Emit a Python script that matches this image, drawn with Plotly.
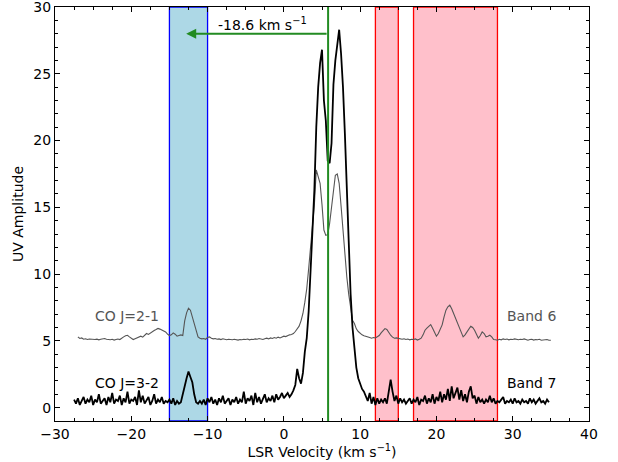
import plotly.graph_objects as go

# ---------------- data ----------------
# Band 6 (CO J=2-1) spectrum: channel grid start / spacing (km/s)
B6_V0 = -27.0
B6_DV = 0.25
band6_amp = [
    5.30, 5.18, 5.22, 5.12, 5.16, 5.10, 5.14, 5.12,   # -27.0
    5.15, 5.10, 5.13, 5.08, 5.12, 5.15, 5.18, 5.12,   # -25.0
    5.10, 5.08, 5.12, 5.06, 5.10, 5.14, 5.10, 5.22,   # -23.0
    5.30, 5.38, 5.42, 5.30, 5.18, 5.10, 5.16, 5.24,   # -21.0
    5.30, 5.35, 5.28, 5.42, 5.55, 5.48, 5.60, 5.70,   # -19.0
    5.78, 5.85, 5.93, 5.88, 5.80, 5.72, 5.67, 5.50,   # -17.0
    5.40, 5.45, 5.60, 5.50, 5.35, 5.40, 5.45, 5.40,   # -15.0
    6.50, 7.10, 7.45, 7.30, 6.80, 6.10, 5.60, 5.30,   # -13.0
    5.20, 5.15, 5.18, 5.12, 5.25, 5.30, 5.20, 5.15,   # -11.0
    5.18, 5.12, 5.15, 5.10, 5.16, 5.12, 5.08, 5.12,   # -9.0
    5.10, 5.08, 5.12, 5.10, 5.06, 5.10, 5.08, 5.12,   # -7.0
    5.10, 5.14, 5.08, 5.12, 5.10, 5.15, 5.12, 5.18,   # -5.0
    5.14, 5.10, 5.16, 5.20, 5.15, 5.22, 5.18, 5.25,   # -3.0
    5.20, 5.28, 5.22, 5.30, 5.35, 5.32, 5.40, 5.45,   # -1.0
    5.48, 5.55, 5.70, 5.90, 6.10, 6.50, 7.05, 7.90,   # 1.0
    8.90, 10.40, 11.90, 13.60, 15.20, 17.80, 17.30, 16.80,  # 3.0
    15.20, 13.30, 12.90, 12.95, 13.80, 15.05, 16.20, 17.40,  # 5.0
    17.50, 16.80, 15.10, 13.10, 11.50, 9.80, 8.50, 7.55,    # 7.0
    6.55, 6.30, 5.90, 5.70, 5.55, 5.45, 5.38, 5.35,   # 9.0
    5.30, 5.25, 5.20, 5.25, 5.22, 5.30, 5.40, 5.60,   # 11.0
    5.75, 5.92, 5.85, 5.60, 5.42, 5.28, 5.20, 5.22,   # 13.0
    5.18, 5.15, 5.12, 5.16, 5.10, 5.14, 5.08, 5.12,   # 15.0
    5.10, 5.15, 5.06, 5.12, 5.20, 5.45, 5.80, 5.95,   # 17.0
    6.10, 6.22, 5.95, 5.70, 5.35, 5.55, 5.90, 6.20,   # 19.0
    6.80, 7.30, 7.55, 7.67, 7.40, 7.05, 6.70, 6.30,   # 21.0
    6.05, 5.70, 5.30, 5.45, 5.67, 5.95, 6.10, 6.00,   # 23.0
    5.80, 5.50, 5.20, 5.40, 5.67, 5.55, 5.30, 5.35,   # 25.0
    5.42, 5.30, 5.10, 5.08, 5.05, 5.12, 5.08, 5.15,   # 27.0
    5.10, 5.14, 5.08, 5.12, 5.10, 5.15, 5.10, 5.08,   # 29.0
    5.12, 5.10, 5.15, 5.08, 5.05, 5.10, 5.12, 5.06,   # 31.0
    5.10, 5.08, 5.12, 5.05, 5.08, 5.06, 5.10, 5.05,   # 33.0
    5.05,                                             # 35.0
]

# Band 7 (CO J=3-2) spectrum
B7_V0 = -27.5
B7_DV = 0.25
band7_amp = [
    0.6, 0.3, 0.7, 0.2, 0.5, 0.8, 0.3, 0.6,   # -27.5
    0.4, 0.9, 0.2, 0.6, 0.4, 1.0, 0.3, 0.5,   # -25.5
    0.7, 0.2, 0.8, 0.4, 1.1, 0.3, 0.6, 0.5,   # -23.5
    0.9, 0.2, 0.7, 0.4, 1.2, 0.3, 0.6, 0.5,   # -21.5
    0.8, 0.2, 1.3, 0.4, 0.9, 0.3, 0.6, 0.8,   # -19.5
    0.2, 0.5, 1.0, 0.3, 0.6, 0.4, 0.8, 0.3,   # -17.5
    0.5, 0.4, 0.6, 0.3, 0.7, 0.2, 0.5, 0.3,   # -15.5
    0.4, 0.9, 1.6, 2.2, 2.7, 2.3, 1.9, 1.0,   # -13.5
    0.4, 0.3, 0.5, 0.3, 0.6, 0.2, 0.7, 0.4,   # -11.5
    0.8, 0.3, 0.6, 0.2, 0.7, 0.4, 0.9, 0.3,   # -9.5
    0.5, 0.7, 0.2, 0.6, 0.4, 0.8, 0.3, 0.6,   # -7.5
    0.4, 1.2, 0.3, 0.7, 0.5, 0.9, 0.2, 1.1,   # -5.5
    0.4, 0.8, 0.3, 0.6, 1.0, 0.4, 0.7, 0.5,   # -3.5
    0.9, 0.4, 1.0, 0.6, 0.8, 1.1, 0.7, 0.9,   # -1.5
    1.1, 0.8, 1.0, 1.3, 1.7, 2.9, 2.2, 1.8,   # 0.5
    2.6, 4.2, 5.2, 7.2, 10.5, 13.5, 16.3, 21.0,   # 2.5
    24.0, 25.8, 26.8, 23.0, 21.5, 18.5, 18.3, 19.8,   # 4.5
    24.2, 26.0, 27.4, 28.3, 26.5, 24.0, 20.5, 17.0,   # 6.5
    12.5, 8.5, 6.0, 4.5, 3.0, 2.2, 1.8, 1.4,   # 8.5
    1.2, 0.9, 0.5, 1.1, 0.3, 0.8, 0.2, 0.7,   # 10.5
    0.3, 0.6, 0.4, 0.7, 0.3, 1.2, 2.1, 1.2,   # 12.5
    0.5, 0.9, 0.3, 0.7, 0.4, 0.6, 0.3, 0.5,   # 14.5
    0.7, 0.3, 0.6, 0.4, 0.8, 0.2, 0.6, 0.5,   # 16.5
    0.9, 0.3, 0.7, 0.4, 1.0, 0.3, 0.8, 0.5,   # 18.5
    1.2, 0.4, 1.0, 0.6, 1.4, 0.5, 1.6, 0.7,   # 20.5
    1.1, 1.5, 0.6, 1.3, 0.5, 1.0, 0.4, 1.2,   # 22.5
    1.6, 0.7, 0.9, 0.3, 0.8, 0.4, 0.6, 0.3,   # 24.5
    0.6, 0.4, 0.9, 0.4, 0.7, 0.3, 0.5, 0.4,   # 26.5
    0.6, 0.8, 0.3, 0.5, 0.4, 0.6, 0.3, 0.7,   # 28.5
    0.4, 0.5, 0.3, 0.6, 0.4, 0.5, 0.3, 0.7,   # 30.5
    0.4, 0.6, 0.3, 0.5, 0.7, 0.4, 0.5, 0.3,   # 32.5
    0.6, 0.4,                                 # 34.5
]

band6_vel = [B6_V0 + B6_DV * i for i in range(len(band6_amp))]
band7_vel = [B7_V0 + B7_DV * i for i in range(len(band7_amp))]

# velocity windows
blue_window = [-15.0, -10.0]
pink_windows = [[12.0, 15.0], [17.0, 28.0]]
systemic_vel = 5.8
offset_vel = -18.6
arrow_y = 28.0

x_range = [-30, 40]
y_range = [-1, 30.0001]

FONT = "DejaVu Sans, Arial, sans-serif"
GRAY = "#555555"

fig = go.Figure()

fig.add_trace(go.Scatter(x=band6_vel, y=band6_amp, mode="lines",
                         line=dict(color=GRAY, width=1.1), showlegend=False))
fig.add_trace(go.Scatter(x=band7_vel, y=band7_amp, mode="lines",
                         line=dict(color="black", width=1.8), showlegend=False))

# shaded windows
fig.add_shape(type="rect", xref="x", yref="y", x0=blue_window[0], x1=blue_window[1],
              y0=y_range[0], y1=y_range[1], fillcolor="#add8e6",
              line=dict(color="blue", width=1.3), layer="below")
for w in pink_windows:
    fig.add_shape(type="rect", xref="x", yref="y", x0=w[0], x1=w[1],
                  y0=y_range[0], y1=y_range[1], fillcolor="#ffc0cb",
                  line=dict(color="red", width=1.3), layer="below")

# systemic velocity line
fig.add_shape(type="line", xref="x", yref="y", x0=systemic_vel, x1=systemic_vel,
              y0=y_range[0], y1=y_range[1], line=dict(color="#228b22", width=2),
              layer="above")

# arrow
fig.add_annotation(x=systemic_vel + offset_vel, y=arrow_y, ax=systemic_vel, ay=arrow_y,
                   xref="x", yref="y", axref="x", ayref="y", text="",
                   showarrow=True, arrowhead=2, arrowsize=1.0, arrowwidth=2,
                   arrowcolor="#228b22")
fig.add_annotation(x=-8.9, y=28.75, xref="x", yref="y", text="-18.6 km s<sup>−1</sup>",
                   showarrow=False, xanchor="left", yanchor="middle",
                   font=dict(family=FONT, size=14, color="black"))

# labels
labels = [
    ("CO J=2-1", -25.0, 6.85, GRAY, "left"),
    ("CO J=3-2", -25.0, 1.85, "black", "left"),
    ("Band 6", 29.0, 6.85, GRAY, "left"),
    ("Band 7", 29.0, 1.85, "black", "left"),
]
for txt, lx, ly, col, anc in labels:
    fig.add_annotation(x=lx, y=ly, xref="x", yref="y", text=txt, showarrow=False,
                       xanchor=anc, yanchor="middle",
                       font=dict(family=FONT, size=14, color=col))

axis_common = dict(showline=True, linecolor="black", linewidth=1, mirror="allticks",
                   ticks="inside", ticklen=5, tickwidth=1, tickcolor="black",
                   showgrid=False, zeroline=False, ticklabeloverflow="allow",
                   automargin=False,
                   tickfont=dict(family=FONT, size=14, color="black"))

fig.update_xaxes(range=x_range, tick0=0, dtick=10,
                 minor=dict(dtick=2.5, ticklen=3, tickwidth=1, tickcolor="black",
                            ticks="inside", showgrid=False),
                 title=dict(text="LSR Velocity (km s<sup>−1</sup>)", standoff=4,
                            font=dict(family=FONT, size=14, color="black")),
                 **axis_common)
fig.update_yaxes(range=y_range, tick0=0, dtick=5,
                 minor=dict(dtick=1, ticklen=3, tickwidth=1, tickcolor="black",
                            ticks="inside", showgrid=False),
                 title=dict(text="UV Amplitude", standoff=6,
                            font=dict(family=FONT, size=14, color="black")),
                 **axis_common)

fig.update_layout(width=618, height=462, margin=dict(l=55, r=29, t=7, b=41),
                  plot_bgcolor="white", paper_bgcolor="white",
                  font=dict(family=FONT, size=14, color="black"))

fig.write_html("out.html")
